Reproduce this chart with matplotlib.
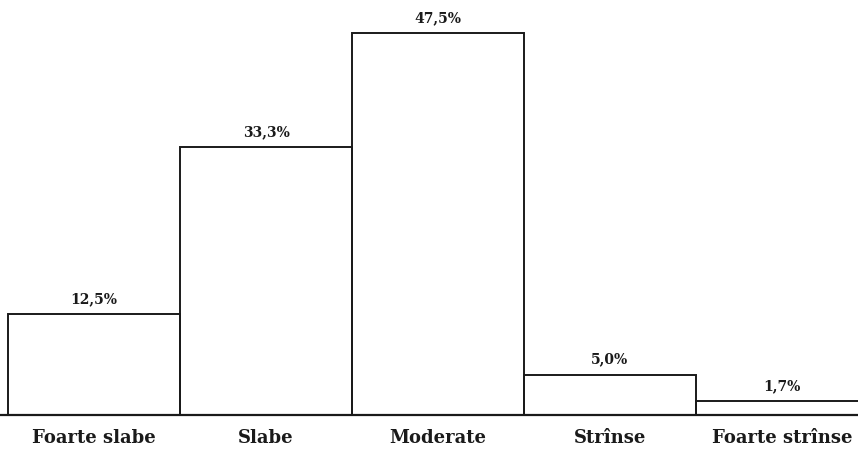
import matplotlib
matplotlib.use("Agg")
import matplotlib.pyplot as plt

categories = ["Foarte slabe", "Slabe", "Moderate", "Strînse", "Foarte strînse"]
values = [12.5, 33.3, 47.5, 5.0, 1.7]
value_labels = ["12,5%", "33,3%", "47,5%", "5,0%", "1,7%"]

W, H = 858, 449
fig = plt.figure(figsize=(W / 100, H / 100), dpi=100)
base_px = 415
ax = fig.add_axes([0, (H - base_px) / H, 1, base_px / H])

x = list(range(len(categories)))
ax.bar(x, values, width=1.0, fill=False, edgecolor="#1a1a1a", linewidth=1.4)

unit = 172.0
left = -0.5 - 8 / unit
ax.set_xlim(left, left + W / unit)
ax.set_ylim(0, base_px * 47.5 / 382)

for xi, v, lab in zip(x, values, value_labels):
    ax.annotate(lab, (xi, v), xytext=(0, 11), textcoords="offset points",
                ha="center", va="center", fontsize=10, fontweight="bold",
                family="DejaVu Serif", color="#1a1a1a")

for s in ["top", "left", "right"]:
    ax.spines[s].set_visible(False)
ax.spines["bottom"].set_linewidth(1.6)
ax.spines["bottom"].set_color("#1a1a1a")
ax.set_yticks([])
ax.set_xticks(x)
ax.set_xticklabels(categories, fontsize=13, fontweight="bold",
                   family="DejaVu Serif", color="#1a1a1a")
ax.tick_params(axis="x", length=0, pad=10)

fig.savefig("out.png", dpi=100)
